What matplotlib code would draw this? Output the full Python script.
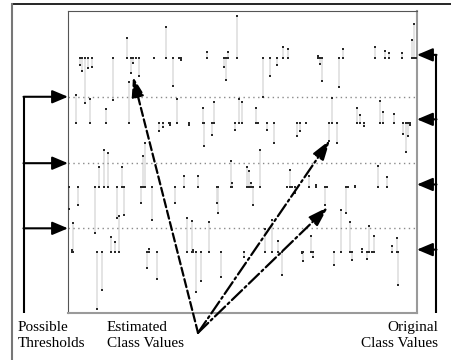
import matplotlib
matplotlib.use('Agg')
from matplotlib import pyplot as plt
from matplotlib.lines import Line2D

# sample positions (x) and estimated values, grouped by original class value
c4_x = [12, 14, 17, 20, 24, 45, 59, 63, 65, 68, 71, 86, 98, 105, 111, 113, 139, 156, 158,
        160, 169, 195, 202, 209, 215, 220, 250, 252, 254, 271, 275, 307, 317, 321, 334, 344, 346, 348]
c4_est = [3.89, 3.80, 3.30, 3.84, 3.86, 3.35, 4.31, 3.77, 3.92, 4.00, 3.72, 4.00, 4.48, 3.57, 4.00,
          3.97, 4.09, 3.86, 3.66, 4.09, 4.65, 3.40, 3.72, 3.89, 4.17, 4.14, 4.03, 3.91, 3.64, 3.55,
          4.14, 4.17, 4.11, 4.08, 4.08, 4.28, 4.53, 4.00]

c3_x = [8, 22, 38, 61, 91, 95, 101, 102, 109, 121, 135, 136, 144, 146, 167, 171, 174, 188, 190,
        199, 206, 229, 232, 238, 261, 264, 269, 289, 292, 296, 312, 315, 326, 335, 338, 340, 342]
c3_est = [3.43, 3.36, 3.21, 3.63, 2.87, 2.93, 3.00, 2.96, 3.36, 2.96, 3.22, 2.64, 2.81, 3.32, 2.88,
          3.36, 3.32, 3.22, 3.00, 2.88, 2.68, 2.79, 2.87, 3.00, 2.71, 3.38, 2.68, 3.22, 3.12, 2.95,
          3.33, 3.16, 3.13, 2.82, 2.54, 2.79, 2.96]

c2_x = [1, 10, 27, 31, 36, 40, 49, 54, 56, 73, 75, 77, 84, 107, 116, 130, 149, 150, 163, 164,
        179, 181, 183, 185, 192, 219, 222, 224, 227, 241, 248, 257, 259, 278, 280, 287, 310, 319]
c2_est = [1.66, 1.72, 1.29, 2.31, 2.57, 2.53, 1.52, 2.31, 1.57, 1.75, 2.48, 2.68, 1.49, 1.75, 2.17,
          2.17, 1.75, 1.60, 2.40, 2.06, 2.31, 2.25, 2.06, 1.72, 2.57, 2.00, 2.26, 2.00, 1.91, 2.17,
          2.03, 1.72, 2.00, 1.60, 2.00, 2.02, 2.33, 2.16]

c1_x = [4, 5, 29, 34, 43, 47, 51, 79, 81, 89, 119, 124, 125, 128, 133, 141, 153, 176, 197, 204,
        210, 214, 234, 235, 243, 245, 266, 273, 282, 284, 294, 299, 301, 304, 306, 324, 329, 330]
c1_est = [1.02, 1.44, 0.11, 0.40, 1.22, 1.15, 1.55, 0.74, 1.04, 0.57, 1.52, 1.47, 1.02, 0.37, 0.54,
          1.46, 0.60, 0.91, 1.35, 1.49, 1.16, 0.64, 0.98, 0.85, 1.24, 0.91, 0.79, 1.64, 1.46, 0.87,
          1.04, 0.88, 1.40, 1.00, 1.24, 1.09, 1.21, 0.48]

thresholds = [1.36, 2.37, 3.40]
orig_arrow_y = [1.03, 2.04, 3.05, 4.05]
# dashed pointers: common origin and the estimated values they point at
ptr_origin = (130, -0.26)
ptr_targets = [(65, 3.71), (262, 2.73), (260, 1.69)]
ptr_styles = ['--', '-.', '-.']

W, H = 451, 360
fig = plt.figure(figsize=(W / 100, H / 100), dpi=100)
ax = fig.add_axes([68 / W, 1 - 313 / H, 349 / W, 302 / H])
ax.set_xlim(0, 349)
ax.set_ylim(0.047, 4.73)
ax.set_xticks([])
ax.set_yticks([])
for s in ['left', 'top']:
    ax.spines[s].set_color('#555555')
    ax.spines[s].set_linewidth(0.8)
for s in ['right', 'bottom']:
    ax.spines[s].set_color('#9a9a9a')
    ax.spines[s].set_linewidth(1.5)

groups = [(4, c4_x, c4_est), (3, c3_x, c3_est), (2, c2_x, c2_est), (1, c1_x, c1_est)]
for cls, xs, est in groups:
    ax.vlines(xs, cls, est, color='#dcdcdc', lw=1.1, zorder=1)
    ax.plot(xs, [cls] * len(xs), 's', ms=2.0, color='#2a2a2a', mew=0, zorder=3)
    ax.plot(xs, est, 's', ms=2.0, color='#2a2a2a', mew=0, zorder=3)

for t in thresholds:
    ax.axhline(t, color='#8a8a8a', lw=1.0, linestyle=(0, (1, 2.5)), zorder=2)

# left bracket: possible thresholds
xl = -44
ax.plot([xl, xl], [thresholds[-1], 0.047], color='black', lw=1.5, clip_on=False,
        solid_capstyle='butt')
for t in thresholds:
    ax.annotate('', xy=(0, t), xytext=(xl - 0.5, t), annotation_clip=False,
                arrowprops=dict(arrowstyle='-|>,head_length=0.95,head_width=0.4',
                                color='black', lw=1.5, shrinkA=0, shrinkB=0))

# right bracket: original class values
xr = 368
ax.plot([xr, xr], [orig_arrow_y[-1], 0.047], color='black', lw=1.5, clip_on=False,
        solid_capstyle='butt')
for y in orig_arrow_y:
    ax.annotate('', xy=(349, y), xytext=(xr + 0.5, y), annotation_clip=False,
                arrowprops=dict(arrowstyle='-|>,head_length=0.95,head_width=0.4',
                                color='black', lw=1.5, shrinkA=0, shrinkB=0))

for tgt, ls in zip(ptr_targets, ptr_styles):
    ax.annotate('', xy=tgt, xytext=ptr_origin, annotation_clip=False,
                arrowprops=dict(arrowstyle='-|>,head_length=1.2,head_width=0.38',
                                color='black', lw=1.6, linestyle=ls,
                                shrinkA=0, shrinkB=0), zorder=5)

# outer frame pieces
fig.add_artist(Line2D([12 / W, 1], [1 - 4 / H, 1 - 4 / H], color='black', lw=1.2,
                      transform=fig.transFigure))
fig.add_artist(Line2D([12 / W, 12 / W], [0, 1 - 4 / H], color='#777777', lw=1.5,
                      transform=fig.transFigure))

font = dict(fontfamily='Liberation Serif', fontsize=11, va='baseline')
fig.text(18 / W, 1 - 331 / H, 'Possible', ha='left', **font)
fig.text(18 / W, 1 - 347 / H, 'Thresholds', ha='left', **font)
fig.text(107 / W, 1 - 331 / H, 'Estimated', ha='left', **font)
fig.text(107 / W, 1 - 347 / H, 'Class Values', ha='left', **font)
fig.text(438 / W, 1 - 331 / H, 'Original', ha='right', **font)
fig.text(438 / W, 1 - 347 / H, 'Class Values', ha='right', **font)

fig.savefig('out.png', dpi=100)
